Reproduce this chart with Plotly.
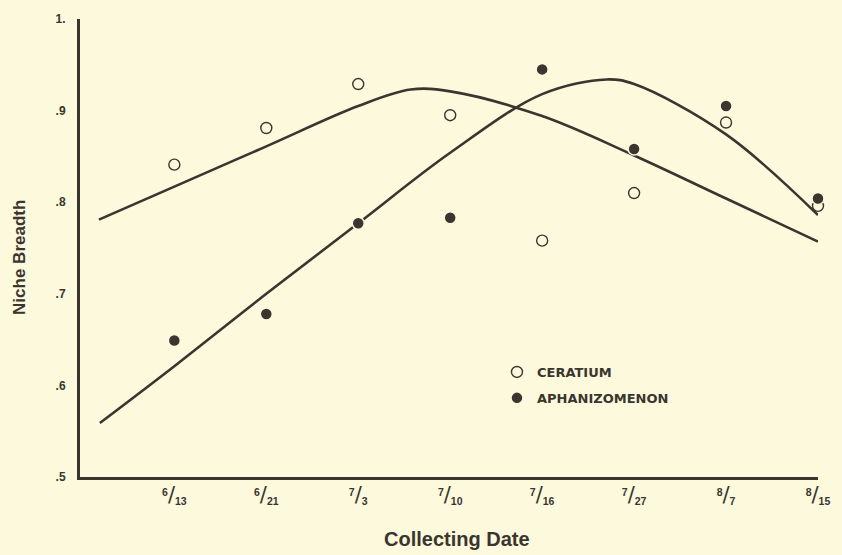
import plotly.graph_objects as go

# Collecting dates (month/day) and niche breadth per genus
dates = ["6/13", "6/21", "7/3", "7/10", "7/16", "7/27", "8/7", "8/15"]
ceratium = [0.841, 0.881, 0.929, 0.895, 0.758, 0.810, 0.887, 0.796]
aphanizomenon = [0.649, 0.678, 0.777, 0.783, 0.945, 0.858, 0.905, 0.804]

# Hand-fitted trend curves (positions on the date index scale)
ceratium_fit_x = [-0.82, 0, 1, 2, 2.57, 3, 4, 5, 6, 7]
ceratium_fit_y = [0.781, 0.817, 0.861, 0.905, 0.923, 0.921, 0.894, 0.851, 0.804, 0.757]
aphan_fit_x = [-0.81, 0, 1, 2, 3, 4, 4.7, 5, 6, 7]
aphan_fit_y = [0.559, 0.621, 0.700, 0.777, 0.854, 0.918, 0.934, 0.929, 0.874, 0.786]

y_ticks = [0.5, 0.6, 0.7, 0.8, 0.9, 1.0]
y_ticktext = [".5", ".6", ".7", ".8", ".9", "1."]

BG = "rgb(252,249,221)"
INK = "rgb(58,53,46)"
SANS = "Liberation Sans, Arial, sans-serif"

idx = list(range(len(dates)))


def fraction(label):
    m, d = label.split("/")
    return (f"<sup>{m}</sup>"
            f"<span style='font-size:21px;font-family:DejaVu Sans;font-weight:normal'>/</span>"
            f"<sub>{d}</sub>")


fig = go.Figure()

fig.add_trace(go.Scatter(
    x=ceratium_fit_x, y=ceratium_fit_y, mode="lines",
    line=dict(color=INK, width=2.6, shape="spline", smoothing=1.0),
    showlegend=False, hoverinfo="skip", cliponaxis=False,
))
fig.add_trace(go.Scatter(
    x=aphan_fit_x, y=aphan_fit_y, mode="lines",
    line=dict(color=INK, width=2.6, shape="spline", smoothing=1.0),
    showlegend=False, hoverinfo="skip", cliponaxis=False,
))

fig.add_trace(go.Scatter(
    x=idx, y=ceratium, mode="markers", name="CERATIUM",
    marker=dict(symbol="circle-open", size=11, color=INK, line=dict(width=1.4, color=INK)),
    cliponaxis=False, legendgroup="c",
))
fig.add_trace(go.Scatter(
    x=idx, y=aphanizomenon, mode="markers", name="APHANIZOMENON",
    marker=dict(symbol="circle", size=12, color=INK, line=dict(width=1.5, color=BG)),
    cliponaxis=False, legendgroup="a",
))

fig.update_layout(
    width=842, height=555,
    margin=dict(l=80, r=19, t=12, b=78),
    paper_bgcolor=BG, plot_bgcolor=BG,
    font=dict(family=SANS, color=INK),
    legend=dict(
        x=0.565, y=0.262, xanchor="left", yanchor="top",
        bgcolor="rgba(0,0,0,0)", tracegroupgap=6,
        font=dict(family="DejaVu Sans", size=13, weight=700, color=INK),
        itemwidth=30,
    ),
    xaxis=dict(
        range=[-1.026, 7.0],
        tickvals=idx, ticktext=[fraction(d) for d in dates],
        showgrid=False, zeroline=False, ticks="",
        showline=True, linecolor=INK, linewidth=3,
        tickfont=dict(family=SANS, size=15, weight=700, color=INK),
        ticklabelstandoff=4,
    ),
    yaxis=dict(
        range=[0.5, 1.0],
        tickvals=y_ticks, ticktext=y_ticktext,
        showgrid=False, zeroline=False, ticks="",
        showline=True, linecolor=INK, linewidth=3,
        tickfont=dict(family=SANS, size=12, weight=700, color=INK),
        ticklabelstandoff=9,
    ),
    annotations=[
        dict(text="Niche Breadth", x=-0.083, y=0.48, xref="paper", yref="paper",
             xanchor="center", yanchor="middle",
             textangle=-90, showarrow=False,
             font=dict(family=SANS, size=17, weight=700, color=INK)),
        dict(text="Collecting Date", x=0.511, y=-0.135, xref="paper", yref="paper",
             xanchor="center", yanchor="middle", showarrow=False,
             font=dict(family=SANS, size=20, weight=700, color=INK)),
    ],
)

fig.write_html("out.html")
